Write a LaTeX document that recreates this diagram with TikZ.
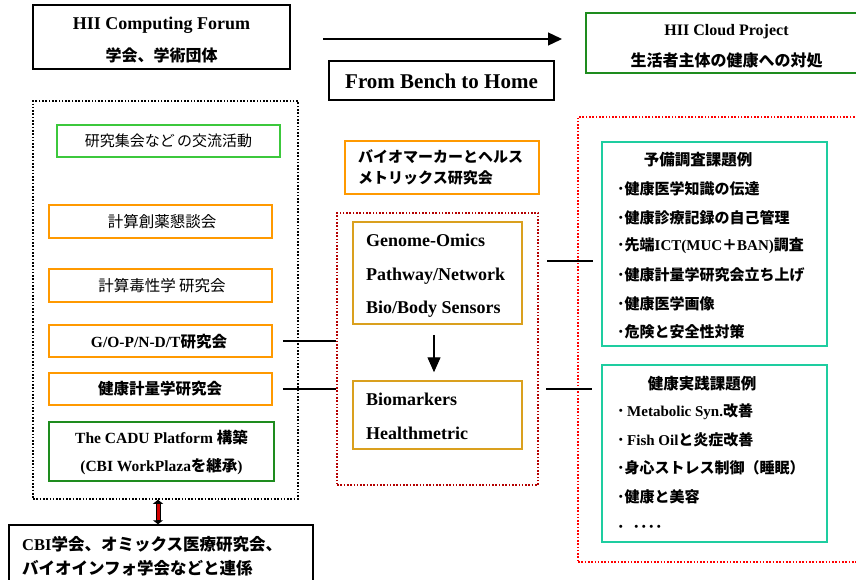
\documentclass[tikz,border=0pt]{standalone}
\usepackage{fontspec}
\setmainfont{Liberation Serif}
\newfontfamily\jp{Noto Sans CJK JP}
\usetikzlibrary{arrows.meta}
\definecolor{orangeb}{RGB}{255,153,0}
\definecolor{goldb}{RGB}{218,160,30}
\definecolor{greenb}{RGB}{60,200,60}
\definecolor{dgreen}{RGB}{30,140,30}
\definecolor{tealb}{RGB}{30,205,160}
\definecolor{redd}{RGB}{255,0,0}
\definecolor{dred}{RGB}{180,0,0}
\definecolor{shaftred}{RGB}{210,0,0}
\newcommand\jb[1]{{\jp\bfseries #1}}
\newcommand\jr[1]{{\jp #1}}
\newcommand\fs[1]{\fontsize{#1}{#1}\selectfont}
\begin{document}
\begin{tikzpicture}[x=1pt,y=-1pt,
  bx/.style={rectangle, inner sep=0pt, line width=1.5pt},
  dotbox/.style={rectangle, inner sep=0pt, line width=1.6pt, dash pattern=on 1.6pt off 1.7pt},
  t/.style={inner sep=0pt, anchor=base},
  tl/.style={inner sep=0pt, anchor=base west},
  con/.style={line width=1.3pt},
]
\useasboundingbox (0,0) rectangle (856,580);
\fill[white] (0,0) rectangle (856,580);

% top row
\node[bx, draw=black, minimum width=257pt, minimum height=64pt] (forum) at (161.5,37) {};
\node[t, font=\fs{18}\bfseries] (forumA) at (161.5,30) {HII Computing Forum};
\node[t, font=\fs{16}] (forumB) at (161.5,61.5) {\jb{学会、学術団体}};

\node[bx, draw=black, minimum width=225pt, minimum height=39pt] (bench) at (441.5,80.5) {};
\node[t, font=\fs{21}\bfseries] (benchT) at (441.5,88.3) {From Bench to Home};

\node[bx, draw=dgreen, minimum width=281pt, minimum height=60pt] (cloud) at (726.5,43) {};
\node[t, font=\fs{16}\bfseries] (cloudA) at (726.5,36) {HII Cloud Project};
\node[t, font=\fs{16}] (cloudB) at (726.5,66.5) {\jb{生活者主体の健康への対処}};

\coordinate (a1) at (323,39);
\coordinate (a2) at (562,39);
\draw[con, -{Triangle[length=14pt,width=13pt]}] (a1) -- (a2);

% left column
\node[dotbox, draw=black, minimum width=265pt, minimum height=398pt] (left) at (165.5,300) {};
\node[bx, draw=greenb, minimum width=223pt, minimum height=32pt] (kouryu) at (168.5,141) {};
\node[t, font=\fs{15}] (kouryuT) at (168.5,146.3) {\jr{研究集会など\,の交流活動}};

\node[bx, draw=orangeb, minimum width=223pt, minimum height=33pt] (souyaku) at (160.5,221.5) {};
\node[t, font=\fs{15.5}] (souyakuT) at (162,227.5) {\jr{計算創薬懇談会}};
\node[bx, draw=orangeb, minimum width=223pt, minimum height=33pt] (dokusei) at (160.5,285.5) {};
\node[t, font=\fs{15.5}] (dokuseiT) at (162,291) {\jr{計算毒性学 研究会}};
\node[bx, draw=orangeb, minimum width=223pt, minimum height=32pt] (gopnd) at (160.5,341) {};
\node[t, font=\fs{15.5}] (gopndT) at (159,347) {{\bfseries G/O-P/N-D/T}\jb{研究会}};
\node[bx, draw=orangeb, minimum width=223pt, minimum height=32pt] (kenko) at (160.5,389) {};
\node[t, font=\fs{15.5}] (kenkoT) at (160,394.5) {\jb{健康計量学研究会}};
\node[bx, draw=dgreen, minimum width=225pt, minimum height=59pt] (cadu) at (161.5,451.5) {};
\node[t, font=\fs{15.5}] (caduA) at (161.5,443) {{\bfseries The CADU Platform }\jb{構築}};
\node[t, font=\fs{15.5}] (caduB) at (161.5,471) {{\bfseries (CBI WorkPlaza}\jb{を継承}{\bfseries )}};

\node[bx, draw=black, minimum width=304pt, minimum height=75pt] (cbi) at (161,562.5) {};
\node[tl, font=\fs{16.5}] (cbiA) at (22,550) {{\bfseries CBI}\jb{学会、オミックス医療研究会、}};
\node[tl, font=\fs{16.5}] (cbiB) at (22,574) {\jb{バイオインフォ学会などと連係}};

\draw[line width=5pt, black, {Triangle[length=4pt,width=10pt]}-{Triangle[length=4pt,width=10pt]}]
  ([xshift=-7.5pt]left.south) -- ([xshift=-3pt]cbi.north);
\draw[line width=3pt, shaftred, shorten <=4.5pt, shorten >=4.5pt]
  ([xshift=-7.5pt]left.south) -- ([xshift=-3pt]cbi.north);

% middle column
\node[bx, draw=orangeb, minimum width=194pt, minimum height=53pt] (bm) at (442,167.5) {};
\node[tl, font=\fs{15}] (bmA) at (358,163) {\jb{バイオマーカーとヘルス}};
\node[tl, font=\fs{15}] (bmB) at (358,183) {\jb{メトリックス研究会}};

\node[dotbox, draw=dred, minimum width=201pt, minimum height=272pt] (mid) at (437.5,349) {};
\node[bx, draw=goldb, minimum width=169pt, minimum height=102pt] (genome) at (437.5,273) {};
\node[tl, font=\fs{18}\bfseries] (g1) at (366,246) {Genome-Omics};
\node[tl, font=\fs{18}\bfseries] (g2) at (366,280) {Pathway/Network};
\node[tl, font=\fs{18}\bfseries] (g3) at (366,313) {Bio/Body Sensors};
\node[bx, draw=goldb, minimum width=169pt, minimum height=68pt] (biom) at (437.5,415) {};
\node[tl, font=\fs{18}\bfseries] (b1) at (366,405) {Biomarkers};
\node[tl, font=\fs{18}\bfseries] (b2) at (366,439) {Healthmetric};
\draw[con, -{Triangle[length=15pt,width=13pt]}, shorten <=10pt, shorten >=8pt] ([xshift=-3.5pt]genome.south) -- ([xshift=-3.5pt]biom.north);

\draw[con, shorten <=10pt] (gopnd.east) -- (gopnd.east -| mid.west);
\draw[con, shorten <=10pt] (kenko.east) -- (kenko.east -| mid.west);

% right column
\node[dotbox, draw=redd, minimum width=292pt, minimum height=445pt] (right) at (724,339.5) {};
\node[bx, draw=tealb, minimum width=225pt, minimum height=204pt] (yobi) at (714.5,244) {};
\node[t, font=\fs{15.5}] (yobiT) at (698,166) {\jb{予備調査課題例}};
\node[tl, font=\fs{15}] (y1) at (617,194.3) {\jb{･健康医学知識の伝達}};
\node[tl, font=\fs{15}] (y2) at (617,223.3) {\jb{･健康診療記録の自己管理}};
\node[tl, font=\fs{15}] (y3) at (617,250.3) {\jb{･先端}{\bfseries ICT(MUC}\jb{＋}{\bfseries BAN)}\jb{調査}};
\node[tl, font=\fs{15}] (y4) at (617,280.3) {\jb{･健康計量学研究会立ち上げ}};
\node[tl, font=\fs{15}] (y5) at (617,309.3) {\jb{･健康医学画像}};
\node[tl, font=\fs{15}] (y6) at (617,337.3) {\jb{･危険と安全性対策}};

\node[bx, draw=tealb, minimum width=225pt, minimum height=177pt] (jissen) at (714.5,453.5) {};
\node[t, font=\fs{15.5}] (jissenT) at (702,389.5) {\jb{健康実践課題例}};
\node[tl, font=\fs{15}] (j1) at (617,416.3) {\jb{･}\,{\bfseries Metabolic Syn.}\jb{改善}};
\node[tl, font=\fs{15}] (j2) at (617,445.3) {\jb{･}\,{\bfseries Fish Oil}\jb{と炎症改善}};
\node[tl, font=\fs{15}] (j3) at (617,473.5) {\jb{･身心ストレス制御（睡眠）}};
\node[tl, font=\fs{15}] (j4) at (617,502.5) {\jb{･健康と美容}};
\node[tl, font=\fs{15}] (j5) at (617,532) {\jb{･\hspace{8pt}････}};

\coordinate (r1) at (547,261);
\coordinate (r2) at (546,389);
\draw[con, shorten >=8pt] (r1) -- (r1 -| yobi.west);
\draw[con, shorten >=9pt] (r2) -- (r2 -| jissen.west);
\end{tikzpicture}
\end{document}
